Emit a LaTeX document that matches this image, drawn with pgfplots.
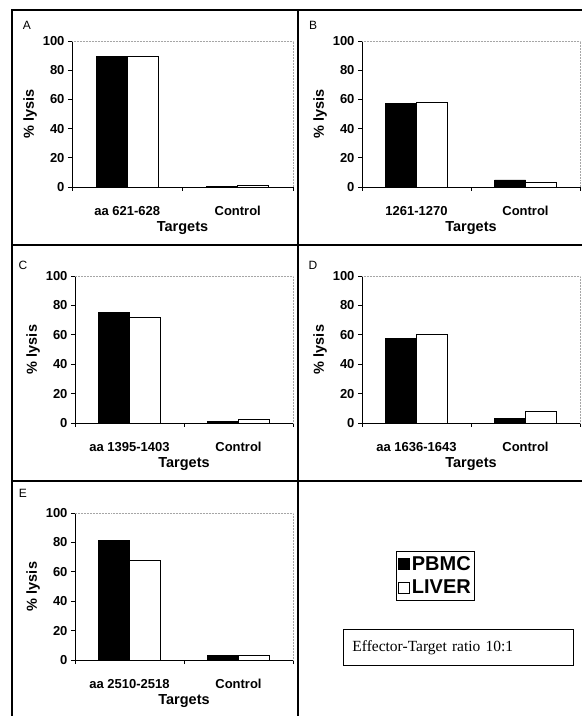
\documentclass[border=0pt]{standalone}
\usepackage{fontspec}
\setmainfont{Liberation Sans}
\newfontfamily\timesfont{Liberation Serif}
\usepackage{pgfplots}
\pgfplotsset{compat=1.18}
\pgfplotsset{
 panel/.style={
  scale only axis, width=218pt, height=147pt, anchor=south west,
  ybar=0pt, bar width=31pt,
  ymin=0, ymax=100, ytick={0,20,...,100},
  xmin=0.5, xmax=2.5,
  xtick={0.5,1.5,2.5}, xticklabels={},
  extra x ticks={1,2},
  extra x tick style={major tick length=0pt, tick label style={yshift=-16pt}},
  axis x line*=bottom, axis y line*=left,
  axis line style={black, line width=0.8pt, -},
  tick align=outside,
  major tick length=4pt,
  tick style={black, line width=0.8pt},
  /pgf/number format/assume math mode=true,
  tick label style={font=\bfseries\fontsize{13}{15}\selectfont},
  label style={font=\bfseries\fontsize{14.5}{16}\selectfont},
  ylabel={\% lysis},
  xlabel={Targets},
  xlabel style={yshift=5pt},
  ylabel style={yshift=-1pt},
  every axis plot/.append style={draw=black, line width=0.8pt},
  clip=false,
  legend image code/.code={\draw[##1, line width=0.6pt] (0pt,-5.5pt) rectangle (11pt,5.5pt);},
 },
}
\newcommand{\topright}{\draw[gray!70, densely dotted, line width=0.5pt] (rel axis cs:0,1) -- (rel axis cs:1,1) -- (rel axis cs:1,0);}
\begin{document}
\begin{tikzpicture}[x=1pt,y=1pt]
\path[use as bounding box] (0,0) rectangle (582,716);
% panel borders
\draw[line width=1.2pt] (12,0) -- (12,706) -- (582,706);
\draw[line width=1.2pt] (298,706) -- (298,0);
\draw[line width=1.2pt] (12,471) -- (582,471);
\draw[line width=1.2pt] (12,235) -- (582,235);
% panel letters
\node[font=\fontsize{12}{14}\selectfont] at (27,691) {A};
\node[font=\fontsize{12}{14}\selectfont] at (313,691) {B};
\node[font=\fontsize{12}{14}\selectfont] at (23,451) {C};
\node[font=\fontsize{12}{14}\selectfont] at (313,451) {D};
\node[font=\fontsize{12}{14}\selectfont] at (23,223) {E};
% A
\begin{axis}[panel, at={(72pt,529pt)}, width=221pt, height=146pt,
  extra x tick labels={aa 621-628, Control}]
\addplot[fill=black] coordinates {(1,89.6) (2,0.5)};
\addplot[fill=white] coordinates {(1,89.4) (2,1.0)};
\topright
\end{axis}
% B
\begin{axis}[panel, at={(362pt,529pt)}, width=218pt, height=146pt,
  extra x tick labels={1261-1270, Control}]
\addplot[fill=black] coordinates {(1,57.3) (2,4.8)};
\addplot[fill=white] coordinates {(1,58.0) (2,3.0)};
\topright
\end{axis}
% C
\begin{axis}[panel, at={(75pt,293pt)},
  extra x tick labels={aa 1395-1403, Control}]
\addplot[fill=black] coordinates {(1,75.5) (2,0.8)};
\addplot[fill=white] coordinates {(1,72.0) (2,2.5)};
\topright
\end{axis}
% D
\begin{axis}[panel, at={(362pt,293pt)},
  extra x tick labels={aa 1636-1643, Control}]
\addplot[fill=black] coordinates {(1,57.5) (2,2.9)};
\addplot[fill=white] coordinates {(1,60.5) (2,8.2)};
\topright
\end{axis}
% E
\begin{axis}[panel, at={(75pt,56pt)},
  extra x tick labels={aa 2510-2518, Control},
  legend style={at={(axis description cs:1.472,0.741)}, anchor=north west,
    draw=black, line width=0.8pt, font=\bfseries\fontsize{20}{22}\selectfont,
    inner xsep=2pt, inner ysep=3pt, row sep=4pt,
    /tikz/every even column/.append style={column sep=1pt}},
  legend cell align=left]
\addplot[fill=black] coordinates {(1,81.5) (2,2.8)};
\addplot[fill=white] coordinates {(1,67.8) (2,2.8)};
\legend{PBMC, LIVER}
\topright
\end{axis}
\node[draw, line width=0.8pt, anchor=north west, minimum width=230pt, minimum height=36pt,
  text width=212pt, inner xsep=9pt, align=left, font=\timesfont\fontsize{15.5}{18}\selectfont]
  at (343,87) {Effector-Target ratio 10:1};
\end{tikzpicture}
\end{document}
